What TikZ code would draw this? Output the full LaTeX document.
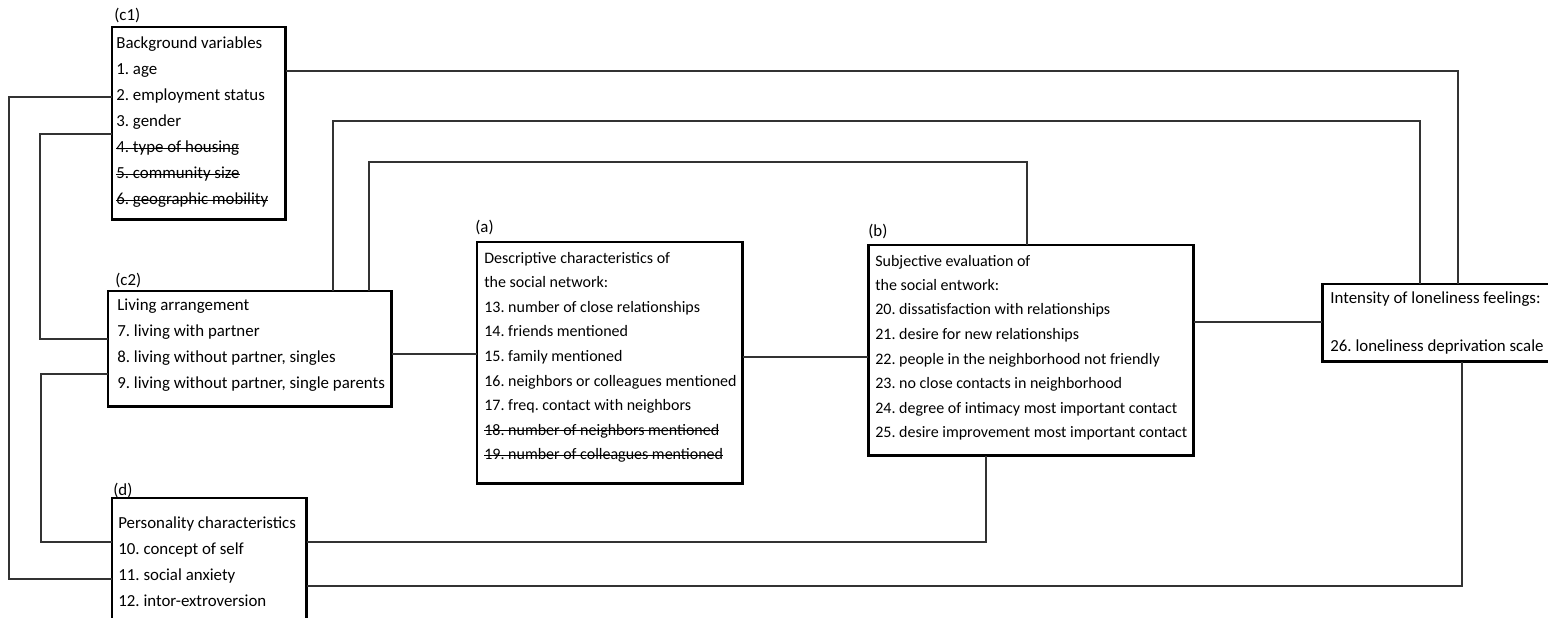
\documentclass[tikz,border=0pt]{standalone}
\usepackage{fontspec}
\setmainfont{Carlito}
\newsavebox\strkbox
\newcommand\mystrike[1]{\sbox\strkbox{#1}\rlap{\rule[0.24em]{\wd\strkbox}{0.06em}}\usebox\strkbox}
\frenchspacing
\begin{document}
\begin{tikzpicture}[x=0.02cm,y=-0.02cm]
\tikzset{
 box/.style={draw=black, line width=1.7pt, anchor=north west, inner sep=0pt, outer sep=0pt},
 txt/.style={anchor=base west, inner sep=0pt, font=\fontsize{9.6}{11}\selectfont},
 txtn/.style={anchor=base west, inner sep=0pt, font=\fontsize{9.1}{11}\selectfont},
 conn/.style={draw=black!80, line width=0.6pt},
}
\useasboundingbox (0,0) rectangle (1548,618);
\clip (0,0) rectangle (1548,618);

% boxes
\node[box, minimum width=3.48cm, minimum height=3.86cm] (c1) at (112,27) {};
\node[box, minimum width=5.68cm, minimum height=2.32cm] (c2) at (108,291) {};
\node[box, minimum width=3.90cm, minimum height=2.84cm] (d) at (112,498) {};
\node[box, minimum width=5.32cm, minimum height=4.84cm] (a) at (477,242) {};
\node[box, minimum width=6.52cm, minimum height=4.22cm] (b) at (868,245) {};
\node[box, minimum width=4.96cm, minimum height=1.56cm] (L) at (1322,284) {};

% labels
\node[txt] (c1lab) at (114,21) {(c1)};
\node[txt] (c2lab) at (115,285) {(c2)};
\node[txt] (dlab) at (113,495) {(d)};
\node[txt] (alab) at (475,233) {(a)};
\node[txt] (blab) at (868,236) {(b)};

% texts
\foreach \t [count=\i from 0] in {Background variables, 1. age, 2. employment status, 3. gender,
  {\mystrike{4. type of housing}}, {\mystrike{5. community size}}, {\mystrike{6. geographic mobility}}}
  \node[txt] (c1t\i) at (116,{49+26*\i}) {\t};

\foreach \t [count=\i from 0] in {Living arrangement, 7. living with partner,
  {8. living without partner, singles}, {9. living without partner, single parents}}
  \node[txt] (c2t\i) at (117,{310+26*\i}) {\t};

\foreach \t [count=\i from 0] in {Personality characteristics, 10. concept of self,
  11. social anxiety, 12. intor-extroversion}
  \node[txt] (dt\i) at (118,{528+26*\i}) {\t};

\foreach \t [count=\i from 0] in {Descriptive characteristics of, the social network:,
  13. number of close relationships, 14. friends mentioned, 15. family mentioned,
  16. neighbors or colleagues mentioned, 17. freq. contact with neighbors,
  {\mystrike{18. number of neighbors mentioned}}, {\mystrike{19. number of colleagues mentioned}}}
  \node[txtn] (at\i) at (484,{263+24.6*\i}) {\t};

\foreach \t [count=\i from 0] in {Subjective evaluation of, the social entwork:,
  20. dissatisfaction with relationships, 21. desire for new relationships,
  22. people in the neighborhood not friendly, 23. no close contacts in neighborhood,
  24. degree of intimacy most important contact, 25. desire improvement most important contact}
  \node[txtn] (bt\i) at (875,{266+24.5*\i}) {\t};

\node[txt] (Lt0) at (1330,303) {Intensity of loneliness feelings:};
\node[txt] (Lt1) at (1330,351) {26. loneliness deprivation scale};

% connectors
\draw[conn] (c1.east |- 0,71) -| (L.north -| 1458,0);
\draw[conn] (c1.west |- 0,97) -- (9,97) |- (d.west |- 0,579);
\draw[conn] (c1.west |- 0,134) -- (40,134) |- (c2.west |- 0,339);
\draw[conn] (c2.north -| 333,0) |- (1420,121) -- (L.north -| 1420,0);
\draw[conn] (c2.north -| 369,0) |- (1027,162) -- (b.north -| 1027,0);
\draw[conn] (c2.west |- 0,374) -- (41,374) |- (d.west |- 0,542);
\draw[conn] (c2.east |- 0,354) -- (a.west |- 0,354);
\draw[conn] (a.east |- 0,357) -- (b.west |- 0,357);
\draw[conn] (b.east |- 0,322) -- (L.west |- 0,322);
\draw[conn] (d.east |- 0,542) -| (b.south -| 986,0);
\draw[conn] (d.east |- 0,586) -| (L.south -| 1462,0);
\end{tikzpicture}
\end{document}
